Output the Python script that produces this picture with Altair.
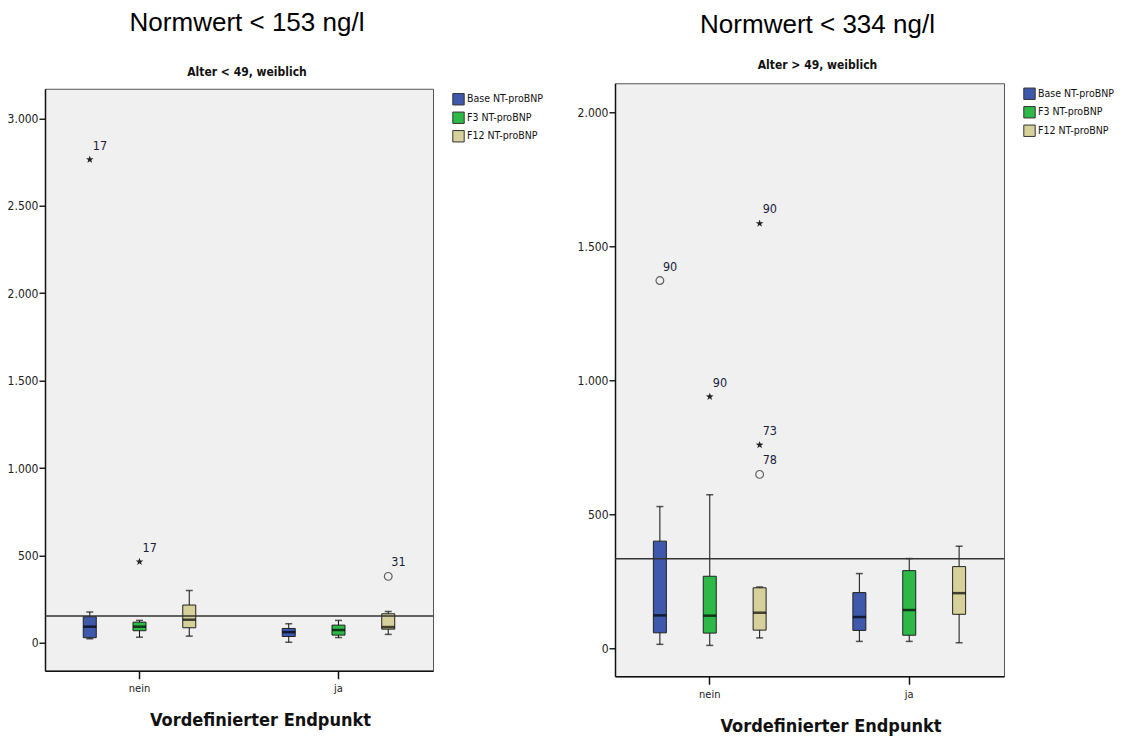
import altair as alt
import pandas as pd

# Categories and series
endpunkt = ["nein", "ja"]
serien = ["Base NT-proBNP", "F3 NT-proBNP", "F12 NT-proBNP"]
farben = ["#3E58AC", "#2EB848", "#D6D09A"]

# One entry per box: nein Base, nein F3, nein F12, ja Base, ja F3, ja F12
box_gruppe = ["nein", "nein", "nein", "ja", "ja", "ja"]
box_serie = serien * 2

# Alter < 49, weiblich (ng/l)
jung_min = [23, 32, 38, 3, 30, 48]
jung_q1 = [29, 69, 86, 36, 44, 78]
jung_median = [92, 92, 132, 61, 73, 90]
jung_q3 = [149, 118, 216, 82, 101, 166]
jung_max = [176, 128, 299, 109, 128, 179]

# Alter > 49, weiblich (ng/l)
alt_min = [15, 11, 39, 26, 26, 21]
alt_q1 = [58, 57, 68, 67, 49, 127]
alt_median = [123, 122, 133, 117, 143, 206]
alt_q3 = [400, 269, 226, 208, 290, 305]
alt_max = [529, 573, 229, 279, 335, 381]

# Outliers ("o") and extreme values ("*") with case numbers
jung_aus_gruppe = ["nein", "nein", "ja"]
jung_aus_serie = ["Base NT-proBNP", "F3 NT-proBNP", "F12 NT-proBNP"]
jung_aus_wert = [2765, 464, 380]
jung_aus_fall = ["17", "17", "31"]
jung_aus_typ = ["extrem", "extrem", "ausreisser"]

alt_aus_gruppe = ["nein", "nein", "nein", "nein", "nein"]
alt_aus_serie = ["Base NT-proBNP", "F3 NT-proBNP", "F12 NT-proBNP",
                 "F12 NT-proBNP", "F12 NT-proBNP"]
alt_aus_wert = [1372, 939, 1585, 759, 649]
alt_aus_fall = ["90", "90", "90", "73", "78"]
alt_aus_typ = ["ausreisser", "extrem", "extrem", "extrem", "ausreisser"]

# Reference limits
jung_normwert = 153
alt_normwert = 334

COND = "Liberation Sans Narrow, DejaVu Sans Condensed, sans-serif"
STAR = ("M0,-1L0.235,-0.324L0.951,-0.309L0.38,0.124L0.588,0.809L0,0.4"
        "L-0.588,0.809L-0.38,0.124L-0.951,-0.309L-0.235,-0.324Z")


def panel(boxes, aus, normwert, y_domain, y_ticks, width, height,
          titel, untertitel, sub_pad, offset):
    x = alt.X(
        "gruppe:N",
        scale=alt.Scale(domain=endpunkt, paddingInner=0.25, paddingOuter=0.1),
        axis=alt.Axis(
            title="Vordefinierter Endpunkt", labelAngle=0, tickSize=8,
            tickWidth=1.5, tickColor="#111", domainColor="#111", domainWidth=1.5,
            labelFont=COND, labelFontSize=11, labelColor="#222", labelPadding=4,
            titleFont=COND, titleFontSize=18, titleFontWeight="bold",
            titleColor="#111", titlePadding=18, titleX=width / 2 + 21,
        ),
    )
    xo = alt.XOffset("serie:N", scale=alt.Scale(domain=serien, paddingInner=0,
                                                paddingOuter=0))
    y_scale = alt.Scale(domain=y_domain, nice=False, zero=False)
    y_axis = alt.Axis(
        title=None, values=y_ticks, grid=False, tickSize=6, tickWidth=1.5,
        tickColor="#222", domainColor="#111", domainWidth=1.5,
        labelFont=COND, labelFontSize=12, labelColor="#222", labelPadding=1,
        labelExpr="replace(format(datum.value, ','), ',', '.')",
    )

    base = alt.Chart(boxes)
    whisker = base.mark_rule(color="#111", strokeWidth=1).encode(
        x=x, xOffset=xo, y=alt.Y("min:Q", scale=y_scale, axis=y_axis), y2="max:Q"
    )
    cap_lo = base.mark_tick(color="#111", thickness=1.5, size=7).encode(
        x=x, xOffset=xo, y=alt.Y("min:Q", scale=y_scale)
    )
    cap_hi = base.mark_tick(color="#111", thickness=1.5, size=7).encode(
        x=x, xOffset=xo, y=alt.Y("max:Q", scale=y_scale)
    )
    box = base.mark_bar(size=13, stroke="#222", strokeWidth=1).encode(
        x=x, xOffset=xo, y=alt.Y("q1:Q", scale=y_scale), y2="q3:Q",
        color=alt.Color(
            "serie:N", scale=alt.Scale(domain=serien, range=farben),
            legend=alt.Legend(
                title=None, orient="right", offset=15, symbolType="square",
                symbolSize=130, symbolStrokeColor="#333", symbolStrokeWidth=1,
                symbolOpacity=1, labelFont=COND, labelFontSize=10.5,
                labelColor="#111", rowPadding=1.5, padding=4, labelOffset=2,
            ),
        ),
    )
    median = base.mark_tick(color="#000", thickness=2.5, size=13).encode(
        x=x, xOffset=xo, y=alt.Y("median:Q", scale=y_scale)
    )
    norm = alt.Chart(pd.DataFrame({"norm": [normwert]})).mark_rule(
        color="#333", strokeWidth=1.5
    ).encode(y=alt.Y("norm:Q", scale=y_scale))

    ab = alt.Chart(aus)
    kreise = ab.transform_filter(alt.datum.typ == "ausreisser").mark_point(
        shape="circle", filled=False, size=60, color="#222", strokeWidth=1.2
    ).encode(x=x, xOffset=xo, y=alt.Y("wert:Q", scale=y_scale))
    sterne = ab.transform_filter(alt.datum.typ == "extrem").mark_point(
        shape=STAR, filled=True, size=64, color="#222", opacity=1
    ).encode(x=x, xOffset=xo, y=alt.Y("wert:Q", scale=y_scale))
    faelle = ab.mark_text(
        align="left", dx=3, dy=-14, font=COND, fontSize=12.5, color="#1c1c3c"
    ).encode(x=x, xOffset=xo, y=alt.Y("wert:Q", scale=y_scale), text="fall:N")

    return alt.layer(
        whisker, cap_lo, cap_hi, box, median, norm, kreise, sterne, faelle
    ).properties(
        width=width, height=height,
        title=alt.TitleParams(
            text=titel, subtitle=untertitel, anchor="middle", frame="group",
            dx=8, font="Liberation Sans", fontSize=26, fontWeight="normal",
            color="#000", subtitleFont=COND, subtitleFontSize=12,
            subtitleFontWeight="bold", subtitleColor="#111",
            subtitlePadding=sub_pad, offset=offset,
        ),
    )


jung_boxes = pd.DataFrame({
    "gruppe": box_gruppe, "serie": box_serie, "min": jung_min, "q1": jung_q1,
    "median": jung_median, "q3": jung_q3, "max": jung_max,
})
alt_boxes = pd.DataFrame({
    "gruppe": box_gruppe, "serie": box_serie, "min": alt_min, "q1": alt_q1,
    "median": alt_median, "q3": alt_q3, "max": alt_max,
})
jung_aus = pd.DataFrame({
    "gruppe": jung_aus_gruppe, "serie": jung_aus_serie, "wert": jung_aus_wert,
    "fall": jung_aus_fall, "typ": jung_aus_typ,
})
alt_aus = pd.DataFrame({
    "gruppe": alt_aus_gruppe, "serie": alt_aus_serie, "wert": alt_aus_wert,
    "fall": alt_aus_fall, "typ": alt_aus_typ,
})

links = panel(jung_boxes, jung_aus, jung_normwert, [-160, 3170],
              [0, 500, 1000, 1500, 2000, 2500, 3000], 388, 582,
              "Normwert < 153 ng/l", "Alter < 49, weiblich", 31, 11)
rechts = panel(alt_boxes, alt_aus, alt_normwert, [-104, 2108],
               [0, 500, 1000, 1500, 2000], 389, 593,
               "Normwert < 334 ng/l", "Alter > 49, weiblich", 22, 12)

# the two panels are centred on each other within the row
chart = alt.hconcat(links, rechts, spacing=28, center=True).resolve_scale(
    color="independent", y="independent", x="independent", xOffset="independent"
).configure(
    background="white",
    padding={"left": 6, "top": 9, "right": 1, "bottom": 0},
).configure_view(
    fill="#F0F0F0", stroke="#555", strokeWidth=1
)

chart.save("out.html", embed_options={"renderer": "svg", "actions": False})
